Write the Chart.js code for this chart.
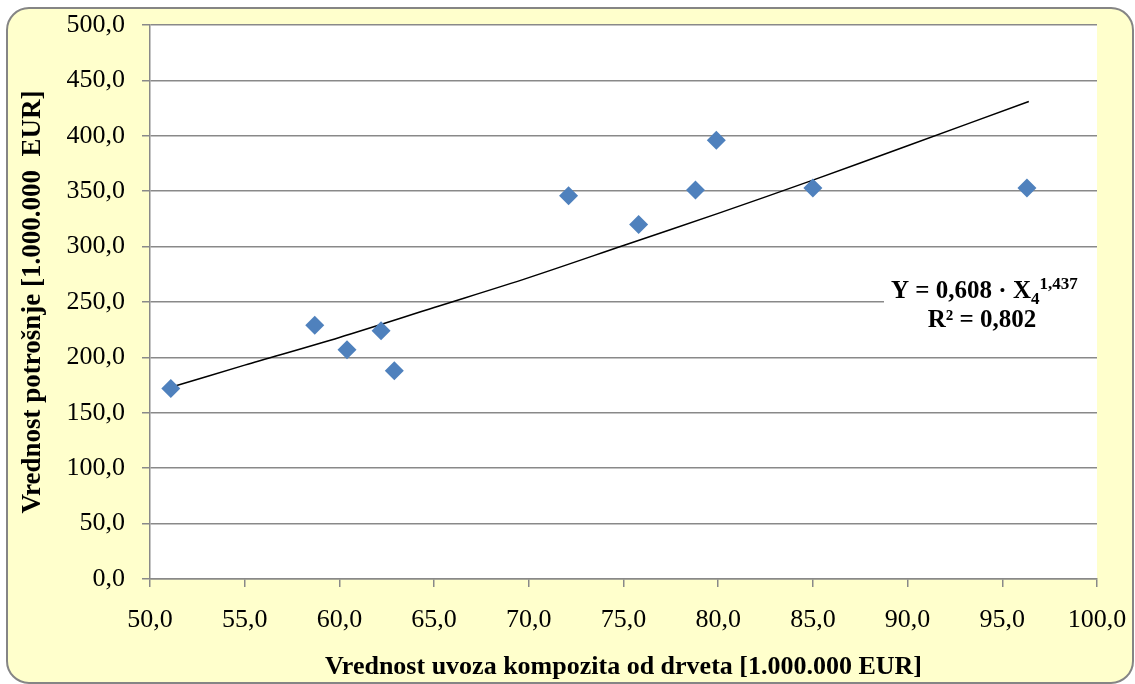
<!DOCTYPE html>
<html>
<head>
<meta charset="utf-8">
<script src="https://cdn.jsdelivr.net/npm/chart.js@4.4.1/dist/chart.umd.min.js"></script>
<style>
  html, body { margin: 0; padding: 0; background: #ffffff; }
  #wrap { width: 1135px; height: 684px; }
</style>
</head>
<body>
<div id="wrap"><canvas id="chart" width="1135" height="684"></canvas></div>
<script>
const importValues = [51.1, 58.7, 60.4, 62.2, 62.9, 72.1, 75.8, 78.8, 79.9, 85.0, 96.3];
const consumptionValues = [172, 229, 207, 224, 188, 346, 320, 351, 396, 353, 353];

// Trend line points
const trendX = [51.1, 55, 60, 65, 70, 75, 80, 85, 90, 96.4];
const trendY = [173, 193, 218, 245, 272, 301, 330, 360, 391, 431];

const xTitle = "Vrednost uvoza kompozita od drveta [1.000.000 EUR]";
const yTitle = "Vrednost potrošnje [1.000.000  EUR]";

const gridGray = "#898989";
const serif = "'Liberation Serif', 'Times New Roman', serif";

const fmt = (v) => Number(v).toFixed(1).replace(".", ",");

// Yellow rounded frame + white plot area
const framePlugin = {
    id: "frame",
    beforeDraw(chart) {
        const ctx = chart.ctx;
        const a = chart.chartArea;
        ctx.save();
        ctx.beginPath();
        ctx.roundRect(7, 8, 1126, 675, 22);
        ctx.fillStyle = "#ffffcc";
        ctx.fill();
        ctx.lineWidth = 2;
        ctx.strokeStyle = "#858585";
        ctx.stroke();
        ctx.fillStyle = "#ffffff";
        ctx.fillRect(a.left, a.top, a.right - a.left, a.bottom - a.top);
        ctx.restore();
    },
    afterDraw(chart) {
        // equation box
        const ctx = chart.ctx;
        const a = chart.chartArea;
        ctx.save();
        ctx.fillStyle = "#ffffff";
        ctx.fillRect(884, 262, a.right - 884, 84);
        ctx.fillStyle = "#000000";
        ctx.textBaseline = "alphabetic";
        ctx.textAlign = "left";
        ctx.font = "bold 25px " + serif;
        const main = "Y = 0,608 · X";
        let x = 891;
        ctx.fillText(main, x, 298);
        x += ctx.measureText(main).width;
        ctx.font = "bold 17px " + serif;
        ctx.fillText("4", x, 304);
        x += ctx.measureText("4").width;
        ctx.fillText("1,437", x, 289);
        ctx.font = "bold 25px " + serif;
        ctx.textAlign = "center";
        ctx.fillText("R² = 0,802", 982, 327);
        ctx.restore();
    }
};

new Chart(document.getElementById("chart"), {
    type: "scatter",
    data: {
        datasets: [
            {
                label: "Podaci",
                data: importValues.map((x, i) => ({ x: x, y: consumptionValues[i] })),
                pointStyle: "rectRot",
                pointRadius: 9.5,
                pointHoverRadius: 9.5,
                backgroundColor: "#4f81bd",
                borderColor: "#4f81bd",
                borderWidth: 0,
                order: 1
            },
            {
                label: "Trend",
                type: "line",
                data: trendX.map((x, i) => ({ x: x, y: trendY[i] })),
                borderColor: "#000000",
                borderWidth: 1.5,
                pointRadius: 0,
                fill: false,
                tension: 0.3,
                order: 2
            }
        ]
    },
    options: {
        responsive: false,
        animation: false,
        layout: { padding: { left: 10, right: 38, top: 25, bottom: 0 } },
        plugins: {
            legend: { display: false },
            tooltip: { enabled: false }
        },
        scales: {
            x: {
                type: "linear",
                min: 50,
                max: 100,
                afterFit(scale) {
                    scale.height = 105;
                    scale.paddingLeft = 0;
                    scale.paddingRight = 0;
                },
                ticks: {
                    stepSize: 5,
                    callback: fmt,
                    color: "#000000",
                    font: { family: serif, size: 26 },
                    padding: 18,
                    maxRotation: 0
                },
                grid: {
                    drawOnChartArea: false,
                    tickLength: 8,
                    color: gridGray,
                    lineWidth: 1.5
                },
                border: { color: gridGray, width: 1.5 },
                title: {
                    display: true,
                    text: xTitle,
                    color: "#000000",
                    font: { family: serif, size: 26, weight: "bold" },
                    padding: { top: 0, bottom: 1 }
                }
            },
            y: {
                min: 0,
                max: 500,
                afterFit(scale) {
                    scale.width = 140;
                    scale.paddingTop = 0;
                    scale.paddingBottom = 0;
                },
                ticks: {
                    stepSize: 50,
                    callback: fmt,
                    color: "#000000",
                    font: { family: serif, size: 26 },
                    padding: 17
                },
                grid: {
                    tickLength: 8,
                    color: gridGray,
                    lineWidth: 1.5
                },
                border: { color: gridGray, width: 1.5 },
                title: {
                    display: true,
                    text: yTitle,
                    color: "#000000",
                    font: { family: serif, size: 27, weight: "bold" },
                    padding: { top: 7, bottom: 0 }
                }
            }
        }
    },
    plugins: [framePlugin]
});
</script>
</body>
</html>
